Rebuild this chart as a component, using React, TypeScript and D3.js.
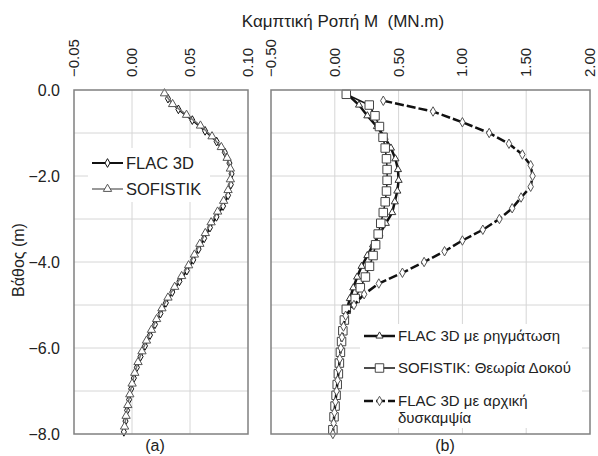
import { useRef, useEffect } from 'react';
import * as d3 from 'd3';

// (a) depth (m) / moment (MN.m)
const depthFlacA = [-0.2, -0.45, -0.7, -0.95, -1.2, -1.45, -1.7, -1.95, -2.2, -2.45, -2.7, -2.95, -3.2, -3.45, -3.7, -3.95, -4.2, -4.45, -4.7, -4.95, -5.2, -5.45, -5.7, -5.95, -6.2, -6.45, -6.7, -6.95, -7.2, -7.45, -7.7, -7.95];
const flacA = [0.031, 0.040, 0.052, 0.063, 0.073, 0.080, 0.084, 0.0858, 0.0852, 0.0828, 0.0785, 0.0728, 0.0672, 0.0622, 0.0574, 0.0528, 0.0473, 0.0409, 0.0347, 0.0292, 0.0245, 0.0198, 0.0155, 0.0112, 0.0074, 0.0042, 0.0016, -0.0007, -0.0025, -0.0042, -0.0056, -0.0070];
const depthSofA = [-0.08, -0.33, -0.58, -0.83, -1.08, -1.33, -1.58, -1.83, -2.08, -2.33, -2.58, -2.83, -3.08, -3.33, -3.58, -3.83, -4.08, -4.33, -4.58, -4.83, -5.08, -5.33, -5.58, -5.83, -6.08, -6.33, -6.58, -6.83, -7.08, -7.33, -7.58, -7.83];
const sofA = [0.028, 0.035, 0.047, 0.059, 0.069, 0.077, 0.082, 0.0848, 0.0848, 0.0828, 0.079, 0.0738, 0.0682, 0.0632, 0.0585, 0.0538, 0.0488, 0.0428, 0.0368, 0.031, 0.0258, 0.0212, 0.0168, 0.0125, 0.0086, 0.0052, 0.0024, 0.0001, -0.0019, -0.0036, -0.0051, -0.0064];

// (b)
const depthB = [-0.1, -0.35, -0.6, -0.85, -1.1, -1.35, -1.6, -1.85, -2.1, -2.35, -2.6, -2.85, -3.1, -3.35, -3.6, -3.85, -4.1, -4.35, -4.6, -4.85, -5.1, -5.35, -5.6, -5.85, -6.1, -6.35, -6.6, -6.85, -7.1, -7.35, -7.6, -7.9];
const flacCrackB = [0.10, 0.19, 0.255, 0.33, 0.39, 0.44, 0.475, 0.495, 0.50, 0.49, 0.47, 0.45, 0.40, 0.35, 0.30, 0.255, 0.21, 0.175, 0.145, 0.118, 0.095, 0.078, 0.065, 0.054, 0.045, 0.036, 0.028, 0.019, 0.010, 0.002, -0.006, -0.015];
const sofB = [0.09, 0.27, 0.315, 0.35, 0.378, 0.395, 0.405, 0.41, 0.41, 0.405, 0.395, 0.38, 0.36, 0.34, 0.32, 0.30, 0.272, 0.24, 0.20, 0.16, 0.09, 0.075, 0.063, 0.053, 0.044, 0.036, 0.028, 0.019, 0.01, 0.002, -0.006, -0.015];
const depthInitB = [-0.25, -0.5, -0.75, -1.0, -1.25, -1.5, -1.75, -2.0, -2.25, -2.5, -2.75, -3.0, -3.25, -3.5, -3.75, -4.0, -4.25, -4.5, -4.75, -5.0, -5.25, -5.5, -5.75, -6.0, -6.25, -6.5, -6.75, -7.0, -7.25, -7.5, -7.75, -8.0];
const flacInitB = [0.38, 0.77, 1.0, 1.21, 1.365, 1.47, 1.535, 1.55, 1.535, 1.46, 1.39, 1.29, 1.16, 1.0, 0.86, 0.70, 0.53, 0.345, 0.23, 0.15, 0.085, 0.068, 0.056, 0.047, 0.039, 0.031, 0.022, 0.014, 0.005, -0.003, -0.009, -0.015];

const ticksA = [-0.05, 0, 0.05, 0.1];
const ticksB = [-0.5, 0, 0.5, 1, 1.5, 2];
const depthLabels = [0, -2, -4, -6, -8];
const depthGrid = [-1, -2, -3, -4, -5, -6, -7];

const FONT = "Arial, 'Liberation Sans', sans-serif";

export default function App() {
  const ref = useRef<SVGSVGElement>(null);

  useEffect(() => {
    const svg = d3.select(ref.current);
    svg.selectAll('*').remove();

    const top = 90;
    const bottom = 434;
    const y = d3.scaleLinear().domain([0, -8]).range([top, bottom]);
    const xa = d3.scaleLinear().domain([-0.05, 0.1]).range([74, 248]);
    const xb = d3.scaleLinear().domain([-0.5, 2]).range([271, 590]);

    const panel = (x: d3.ScaleLinear<number, number>, ticks: number[], fmt: (v: number) => string) => {
      const [x0, x1] = x.range();
      const g = svg.append('g');
      g.append('rect').attr('x', x0).attr('y', top).attr('width', x1 - x0).attr('height', bottom - top).attr('fill', '#fff');
      // grid
      g.selectAll('.gx')
        .data(ticks.slice(1, -1))
        .enter()
        .append('line')
        .attr('x1', (d) => x(d)).attr('x2', (d) => x(d))
        .attr('y1', top).attr('y2', bottom)
        .attr('stroke', '#d6d6d6').attr('stroke-width', 1);
      g.selectAll('.gy')
        .data(depthGrid)
        .enter()
        .append('line')
        .attr('x1', x0).attr('x2', x1)
        .attr('y1', (d) => y(d)).attr('y2', (d) => y(d))
        .attr('stroke', '#d6d6d6').attr('stroke-width', 1);
      // tick labels (rotated)
      g.selectAll('.tl')
        .data(ticks)
        .enter()
        .append('text')
        .attr('transform', (d) => `translate(${x(d) + 5},77) rotate(-90)`)
        .attr('font-family', FONT)
        .attr('font-size', 15)
        .attr('fill', '#222')
        .text((d) => fmt(d));
      return g;
    };

    const frame = (x: d3.ScaleLinear<number, number>) => {
      const [x0, x1] = x.range();
      svg.append('rect')
        .attr('x', x0).attr('y', top).attr('width', x1 - x0).attr('height', bottom - top)
        .attr('fill', 'none').attr('stroke', '#808080').attr('stroke-width', 1.5);
    };

    const series = (
      x: d3.ScaleLinear<number, number>,
      depth: number[],
      vals: number[],
      opt: { stroke: string; width: number; dash?: string; symbol: d3.SymbolType; size: number; mstroke: string }
    ) => {
      const pts = depth.map((d, i) => [x(vals[i]), y(d)] as [number, number]);
      svg.append('path')
        .attr('d', d3.line()(pts))
        .attr('fill', 'none')
        .attr('stroke', opt.stroke)
        .attr('stroke-width', opt.width)
        .attr('stroke-dasharray', opt.dash ?? null);
      svg.append('g')
        .selectAll('path')
        .data(pts)
        .enter()
        .append('path')
        .attr('transform', (p) => `translate(${p[0]},${p[1]})`)
        .attr('d', d3.symbol().type(opt.symbol).size(opt.size)())
        .attr('fill', '#fff')
        .attr('stroke', opt.mstroke)
        .attr('stroke-width', 1);
    };

    const legend = (
      lx: number,
      ly: number,
      fs: number,
      opt: { stroke: string; width: number; dash?: string; symbol: d3.SymbolType; size: number; mstroke: string },
      lines: string[]
    ) => {
      svg.append('line')
        .attr('x1', lx).attr('x2', lx + 31).attr('y1', ly).attr('y2', ly)
        .attr('stroke', opt.stroke).attr('stroke-width', opt.width)
        .attr('stroke-dasharray', opt.dash ?? null);
      svg.append('path')
        .attr('transform', `translate(${lx + 15.5},${ly})`)
        .attr('d', d3.symbol().type(opt.symbol).size(opt.size)())
        .attr('fill', '#fff').attr('stroke', opt.mstroke);
      lines.forEach((t, i) => {
        svg.append('text')
          .attr('x', lx + 34).attr('y', ly + fs * 0.36 + i * 17)
          .attr('font-family', FONT).attr('font-size', fs).attr('fill', '#222')
          .text(t);
      });
    };

    panel(xa, ticksA, (v) => d3.format('.2f')(v));
    panel(xb, ticksB, (v) => d3.format('.2f')(v));

    const styleFlacA = { stroke: '#111', width: 2, symbol: d3.symbolDiamond, size: 22, mstroke: '#111' };
    const styleSofA = { stroke: '#777', width: 1.5, symbol: d3.symbolTriangle, size: 30, mstroke: '#555' };
    const styleCrack = { stroke: '#111', width: 2.5, symbol: d3.symbolTriangle, size: 22, mstroke: '#333' };
    const styleSofB = { stroke: '#111', width: 1.5, symbol: d3.symbolSquare, size: 72, mstroke: '#444' };
    const styleInit = { stroke: '#111', width: 2.5, dash: '9 3', symbol: d3.symbolDiamond, size: 26, mstroke: '#555' };

    series(xa, depthFlacA, flacA, styleFlacA);
    series(xa, depthSofA, sofA, styleSofA);

    series(xb, depthB, flacCrackB, styleCrack);
    series(xb, depthB, sofB, styleSofB);
    series(xb, depthInitB, flacInitB, styleInit);

    frame(xa);
    frame(xb);

    // legend (a)
    svg.append('rect').attr('x', 88).attr('y', 148).attr('width', 122).attr('height', 54).attr('fill', '#fff');
    legend(92, 163, 16.5, styleFlacA, ['FLAC 3D']);
    legend(92, 189, 16.5, styleSofA, ['SOFISTIK']);

    // legend (b)
    svg.append('rect').attr('x', 360).attr('y', 324).attr('width', 222).attr('height', 104).attr('fill', '#fff');
    legend(364, 336, 15, styleCrack, ['FLAC 3D με ρηγμάτωση']);
    legend(364, 368, 15, styleSofB, ['SOFISTIK: Θεωρία Δοκού']);
    legend(364, 401, 15, styleInit, ['FLAC 3D με αρχική', 'δυσκαμψία']);

    // depth labels
    svg.append('g')
      .selectAll('text')
      .data(depthLabels)
      .enter()
      .append('text')
      .attr('x', 60)
      .attr('y', (d) => y(d) + 5.5)
      .attr('text-anchor', 'end')
      .attr('font-family', FONT)
      .attr('font-size', 16)
      .attr('fill', '#222')
      .text((d) => d3.format('.1f')(d));

    svg.append('text')
      .attr('transform', `translate(24,260) rotate(-90)`)
      .attr('text-anchor', 'middle')
      .attr('font-family', FONT).attr('font-size', 16).attr('fill', '#222')
      .text('Βάθος (m)');

    svg.append('text')
      .attr('x', 343).attr('y', 27)
      .attr('text-anchor', 'middle')
      .attr('font-family', FONT).attr('font-size', 17).attr('fill', '#222')
      .style('white-space', 'pre')
      .text('Καμπτική Ροπή Μ  (MN.m)');

    svg.append('text')
      .attr('x', 155).attr('y', 451).attr('text-anchor', 'middle')
      .attr('font-family', FONT).attr('font-size', 16).attr('fill', '#222')
      .text('(a)');
    svg.append('text')
      .attr('x', 445).attr('y', 451).attr('text-anchor', 'middle')
      .attr('font-family', FONT).attr('font-size', 16).attr('fill', '#222')
      .text('(b)');
  }, []);

  return (
    <svg
      ref={ref}
      width={598}
      height={456}
      style={{ position: 'absolute', left: 0, top: 0, background: '#fff' }}
    />
  );
}
